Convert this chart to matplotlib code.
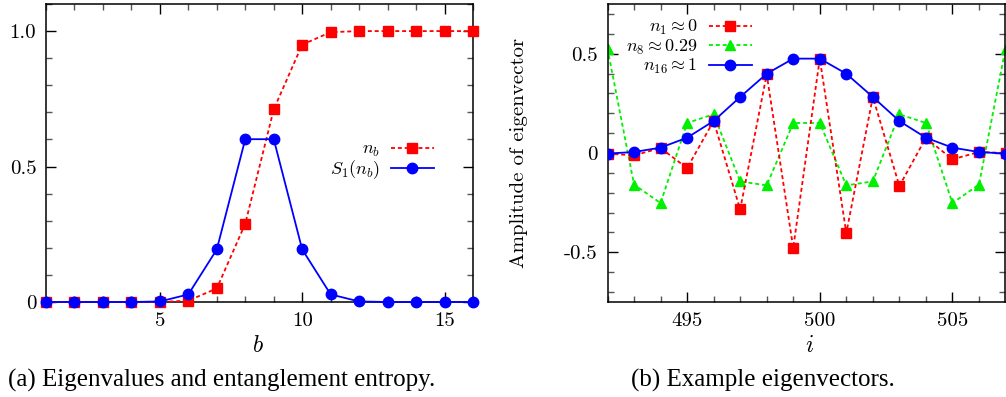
import numpy as np
import matplotlib
matplotlib.use('Agg')
import matplotlib.pyplot as plt
from matplotlib.legend import Legend

plt.rcParams['mathtext.fontset'] = 'cm'
plt.rcParams['axes.unicode_minus'] = False

# panel (a): eigenvalues n_b and entanglement entropy S_1(n_b)
b = list(range(1, 17))
n_b = [0, 0, 0, 0, 0.0, 0.005, 0.05, 0.289, 0.711, 0.95, 0.996, 1.0, 1.0, 1.0, 1.0, 1.0]
S1 = [0, 0, 0, 0, 0.002, 0.028, 0.194, 0.601, 0.601, 0.194, 0.028, 0.002, 0, 0, 0, 0]

# panel (b): example eigenvectors around site 500
site = list(range(492, 508))
vec_n1 = [-0.003, -0.012, 0.025, -0.076, 0.161, -0.284, 0.396, -0.478,
          0.475, -0.403, 0.282, -0.166, 0.076, -0.032, 0.005, 0.0]
vec_n8 = [0.525, -0.159, -0.252, 0.151, 0.195, -0.143, -0.163, 0.151,
          0.151, -0.163, -0.143, 0.195, 0.151, -0.252, -0.159, 0.525]
vec_n16 = [-0.003, 0.005, 0.027, 0.077, 0.161, 0.282, 0.399, 0.475,
           0.475, 0.399, 0.282, 0.161, 0.077, 0.027, 0.005, -0.003]

xt_a = [5, 10, 15]
yt_a = [0, 0.5, 1.0]
yl_a = ['0', '0.5', '1.0']
xt_b = [495, 500, 505]
yt_b = [-0.5, 0, 0.5]
yl_b = ['-0.5', '0', '0.5']

RED = '#ff0000'
GREEN = '#00f000'
BLUE = '#0000ff'
dot = (0, (2.2, 1.6))

fig = plt.figure(figsize=(10.06, 3.97), dpi=100)
W, H = 1006, 397
ax1 = fig.add_axes([46 / W, 95 / H, 427 / W, 298 / H])
ax2 = fig.add_axes([607.5 / W, 95 / H, 398 / W, 298 / H])


def style(ax):
    ax.tick_params(which='both', direction='in', top=True, right=True)
    ax.tick_params(which='major', length=7, width=1, pad=7)
    ax.tick_params(which='minor', length=4, width=1, color='#555555')
    for s in ax.spines.values():
        s.set_linewidth(1.1)
    for lab in ax.get_xticklabels() + ax.get_yticklabels():
        lab.set_fontfamily('cmr10')
        lab.set_fontsize(15)


def key(ax, lines, x, ys):
    # one legend per entry so that the labels end flush right, gnuplot style
    for ln, y in zip(lines, ys):
        lg = Legend(ax, [ln], [ln.get_label()], loc='center right', bbox_to_anchor=(x, y),
                    frameon=False, markerfirst=False, fontsize=13, handlelength=2.4,
                    handletextpad=0.6, borderpad=0, borderaxespad=0)
        ax.add_artist(lg)


# (a)
l1, = ax1.plot(b, n_b, color=RED, ls=dot, lw=1.3, marker='s', ms=7.5, label=r'$n_b$', clip_on=False, zorder=3)
l2, = ax1.plot(b, S1, color=BLUE, ls='-', lw=1.3, marker='o', ms=7.5, label=r'$S_1(n_b)$', clip_on=False, zorder=4)
ax1.set_xlim(1, 16)
ax1.set_ylim(0, 1.1)
ax1.set_xticks(xt_a)
ax1.set_xticks(range(1, 17), minor=True)
ax1.set_yticks(yt_a)
ax1.set_yticklabels(yl_a)
ax1.set_yticks(np.arange(0, 1.11, 0.1), minor=True)
ax1.set_xticklabels([str(v) for v in xt_a])
ax1.set_xlabel(r'$b$', fontsize=17)
ax1.xaxis.set_label_coords(212 / 427, -31 / 298)
style(ax1)
key(ax1, [l1, l2], 0.909, [0.512, 0.444])

# (b)
r1, = ax2.plot(site, vec_n1, color=RED, ls=dot, lw=1.3, marker='s', ms=7.5, label=r'$n_1 \approx 0$', zorder=3)
r2, = ax2.plot(site, vec_n8, color=GREEN, ls=dot, lw=1.3, marker='^', ms=6.5, label=r'$n_8 \approx 0.29$', zorder=2)
r3, = ax2.plot(site, vec_n16, color=BLUE, ls='-', lw=1.3, marker='o', ms=7.5, label=r'$n_{16} \approx 1$', zorder=4)
ax2.set_xlim(492, 507)
ax2.set_ylim(-0.75, 0.75)
ax2.set_xticks(xt_b)
ax2.set_xticklabels([str(v) for v in xt_b])
ax2.set_xticks(range(492, 508), minor=True)
ax2.set_yticks(yt_b)
ax2.set_yticklabels(yl_b)
ax2.set_yticks(np.arange(-0.7, 0.71, 0.1), minor=True)
ax2.set_xlabel(r'$i$', fontsize=17)
ax2.xaxis.set_label_coords(202 / 398, -31 / 298)
ax2.set_ylabel('Amplitude of eigenvector', fontfamily='cmr10', fontsize=15)
ax2.yaxis.set_label_coords(-0.2, 0.5)
style(ax2)
key(ax2, [r1, r2, r3], 0.363, [0.92, 0.855, 0.789])

fig.text(8 / W, 1 - 380 / H, '(a) Eigenvalues and entanglement entropy.', fontfamily='Liberation Serif',
         fontsize=18, va='center', ha='left')
fig.text(631 / W, 1 - 380 / H, '(b) Example eigenvectors.', fontfamily='Liberation Serif',
         fontsize=18, va='center', ha='left')

fig.savefig('out.png', dpi=100)
